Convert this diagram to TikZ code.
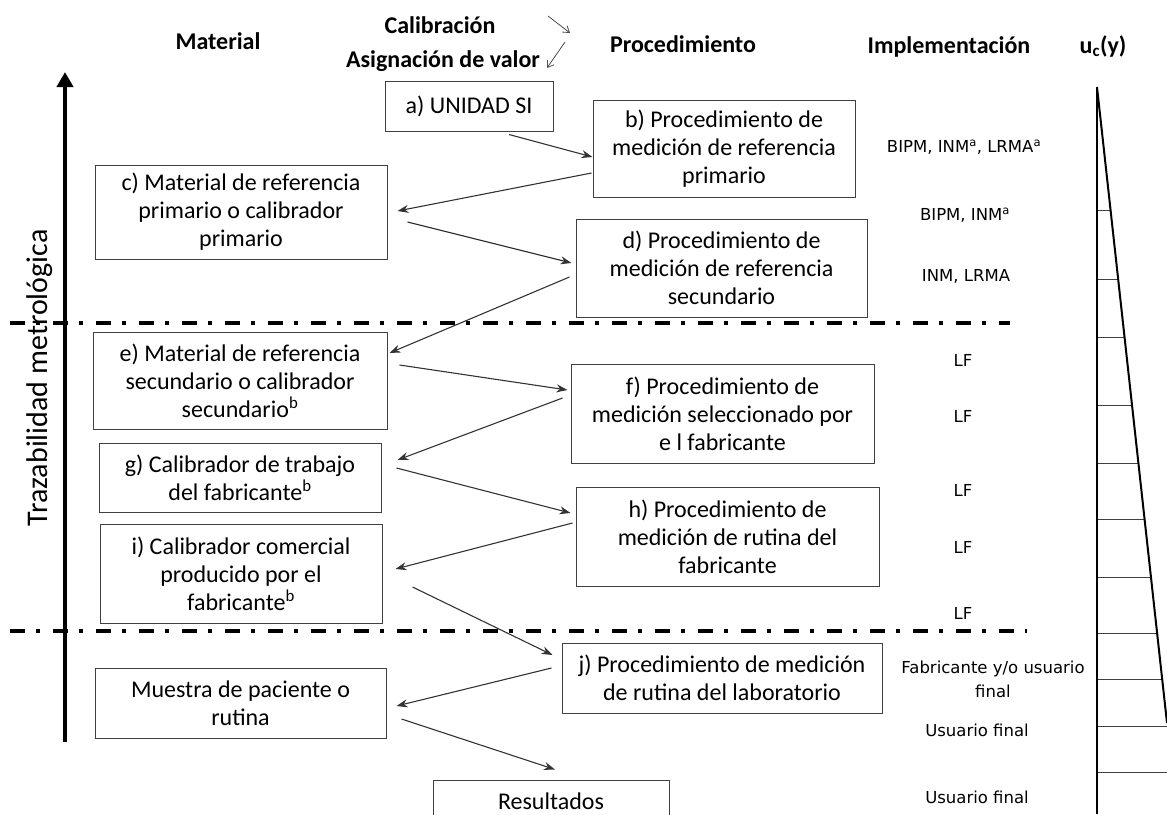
\documentclass[tikz,border=0pt]{standalone}
\usepackage{fontspec}
\setmainfont{Carlito}
\newfontfamily\lblfont{DejaVu Sans}
\usetikzlibrary{arrows.meta,calc}

\begin{document}
\begin{tikzpicture}[x=1pt,y=-1pt,
  box/.style={draw=black!75, line width=1pt, inner sep=0pt, align=center,
              font=\fontsize{24}{28}\selectfont},
  hdr/.style={anchor=base, font=\fontsize{24}{28}\selectfont\bfseries},
  impl/.style={align=center, font=\lblfont\fontsize{16.5}{24}\selectfont},
  link/.style={draw=black!80, line width=1.1pt, -{Stealth[length=11pt,width=8pt]}},
  tiny/.style={draw=black!70, line width=0.8pt, -{Straight Barb[length=6pt,width=8pt]}},
  sep/.style={line width=3.5pt, dash pattern=on 15pt off 11pt on 4pt off 13pt},
]
\useasboundingbox (0,0) rectangle (1167,814);

% column headings
\node[hdr] (hmat) at (218,49) {Material};
\node[hdr] (hcal) at (440,33) {Calibración};
\node[hdr] (hasi) at (443,67) {Asignación de valor};
\node[hdr] (hproc) at (683,52) {Procedimiento};
\node[hdr] (himp) at (949,53) {Implementación};
\node[hdr] (hu) at (1103,53) {u\textsubscript{c}(y)};

% small legend arrows next to the headings
\coordinate (k1a) at (548,16);
\coordinate (k1b) at (570,33);
\coordinate (k2a) at (565,42);
\coordinate (k2b) at (547,68);
\draw[tiny] (k1a) -- (k1b);
\draw[tiny] (k2a) -- (k2b);

% traceability axis
\coordinate (axb) at (65,742);
\coordinate (axt) at (65,72);
\draw[line width=4pt, -{Triangle[length=15pt,width=16pt]}] (axb) -- (axt);
\node[rotate=90, font=\fontsize{30}{34}\selectfont] (axl) at (40,378) {Trazabilidad metrológica};

% separators
\coordinate (s1a) at (10,323);
\coordinate (s1b) at (1010,323);
\coordinate (s2a) at (10,631);
\coordinate (s2b) at (1027,631);
\draw[sep] (s1a) -- (s1b);
\draw[sep] (s2a) -- (s2b);

% hierarchy boxes
\node[box, minimum width=168pt, minimum height=50pt] (a) at (469,106) {a) UNIDAD SI};
\node[box, minimum width=262pt, minimum height=97pt] (b) at (724,148.5)
  {b) Procedimiento de\\medición de referencia\\primario};
\node[box, minimum width=292pt, minimum height=94pt] (c) at (241,212)
  {c) Material de referencia\\primario o calibrador\\primario};
\node[box, minimum width=291pt, minimum height=98pt] (d) at (721.5,268)
  {d) Procedimiento de\\medición de referencia\\secundario};
\node[box, minimum width=294pt, minimum height=97pt] (e) at (240,380.5)
  {e) Material de referencia\\secundario o calibrador\\secundario\textsuperscript{b}};
\node[box, minimum width=303pt, minimum height=99pt] (f) at (722.5,413.5)
  {f) Procedimiento de\\medición seleccionado por\\e l fabricante};
\node[box, minimum width=282pt, minimum height=69pt] (g) at (240,477.5)
  {g) Calibrador de trabajo\\del fabricante\textsuperscript{b}};
\node[box, minimum width=303pt, minimum height=99pt] (h) at (727.5,536.5)
  {h) Procedimiento de\\medición de rutina del\\fabricante};
\node[box, minimum width=282pt, minimum height=99pt] (i) at (241,573.5)
  {i) Calibrador comercial\\producido por el\\fabricante\textsuperscript{b}};
\node[box, minimum width=320pt, minimum height=70pt] (j) at (722,678)
  {j) Procedimiento de medición\\de rutina del laboratorio};
\node[box, minimum width=291pt, minimum height=70pt] (m) at (240.5,703)
  {Muestra de paciente o\\rutina};
\node[box, minimum width=236pt, minimum height=42pt] (r) at (551,801) {Resultados};

% calibration / value assignment chain
\draw[link] ([xshift=40pt,yshift=-3pt]a.south) -- ([yshift=-8.5pt]b.west);
\draw[link] ([xshift=-1pt,yshift=-24.5pt]b.west) -- ([xshift=10pt,yshift=1pt]c.east);
\draw[link] ([xshift=20pt,yshift=-10pt]c.east) -- ([xshift=-4pt,yshift=5pt]d.west);
\draw[link] ([xshift=-6pt,yshift=-9pt]d.west) -- ([xshift=2pt,yshift=27.5pt]e.east);
\draw[link] ([xshift=12pt,yshift=15.5pt]e.east) -- ([xshift=-3pt,yshift=23.5pt]f.west);
\draw[link] ([xshift=-8pt,yshift=15.5pt]f.west) -- ([xshift=16pt,yshift=17.5pt]g.east);
\draw[link] ([xshift=15pt,yshift=9.5pt]g.east) -- ([xshift=-5pt,yshift=23.5pt]h.west);
\draw[link] ([xshift=-3pt,yshift=13.5pt]h.west) -- ([xshift=13pt,yshift=4.5pt]i.east);
\draw[link] ([xshift=30pt,yshift=-13.5pt]i.east) -- ([xshift=-9pt,yshift=23pt]j.west);
\draw[link] ([xshift=-10pt,yshift=10pt]j.west) -- ([xshift=10pt,yshift=-3pt]m.east);
\draw[link] ([xshift=15pt,yshift=-16pt]m.east) -- ([xshift=4pt,yshift=10pt]r.north);

% implementation column
\node[impl] (i1) at (964,147) {BIPM, INM\textsuperscript{a}, LRMA\textsuperscript{a}};
\node[impl] (i2) at (965,215) {BIPM, INM\textsuperscript{a}};
\node[impl] (i3) at (966,276) {INM, LRMA};
\node[impl] (i4) at (963,360) {LF};
\node[impl] (i5) at (963,416) {LF};
\node[impl] (i6) at (963,490) {LF};
\node[impl] (i7) at (963,547) {LF};
\node[impl] (i8) at (963,613) {LF};
\node[impl] (i9) at (993,679) {Fabricante y/o usuario\\final};
\node[impl] (i10) at (977,730) {Usuario final};
\node[impl] (i11) at (977,797) {Usuario final};

% combined uncertainty wedge
\coordinate (ut) at (1097,87);
\coordinate (ub) at (1097,814);
\coordinate (us) at (1167,723);
\foreach \yy in {210,279,337,405,463,519,577,633,679,726,772}
  \draw[line width=0.8pt, black!75] (1097,\yy) -- ({min(1167,1097+(\yy-87)/636*70)},\yy);
\draw[line width=2.5pt] (ut) -- (ub);
\draw[line width=2pt] (ut) -- (us);
\end{tikzpicture}
\end{document}
